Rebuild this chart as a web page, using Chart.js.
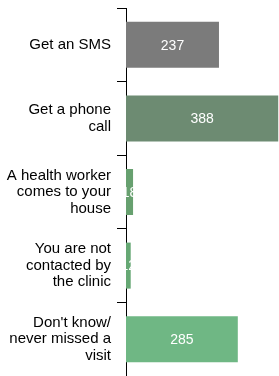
<!DOCTYPE html>
<html>
<head>
<meta charset="utf-8">
<script src="https://cdn.jsdelivr.net/npm/chart.js@4/dist/chart.umd.min.js"></script>
<style>
  html, body { margin: 0; padding: 0; background: #fff; }
</style>
</head>
<body>
<canvas id="myChart" width="279" height="376"></canvas>
<script>
// categories and counts
const categories = [
    "Get an SMS",
    ["Get a phone", "call"],
    ["A health worker", "comes to your", "house"],
    ["You are not", "contacted by", "the clinic"],
    ["Don't know/", "never missed a", "visit"]
];
const counts = [237, 388, 18, 12, 285];
const barColors = ["#7b7b7b", "#6d8b72", "#67a06f", "#66a874", "#6fb784"];

// white value labels in the middle of each bar
const valueLabels = {
    id: "valueLabels",
    afterDatasetsDraw(chart) {
        const ctx = chart.ctx;
        const meta = chart.getDatasetMeta(0);
        ctx.save();
        ctx.fillStyle = "#ffffff";
        ctx.font = "14px 'Liberation Sans', Arial, sans-serif";
        ctx.textAlign = "center";
        ctx.textBaseline = "middle";
        meta.data.forEach((bar, i) => {
            const x = (bar.base + bar.x) / 2;
            ctx.fillText(String(counts[i]), x, bar.y + 1);
        });
        ctx.restore();
    }
};

const myChartRef = document.getElementById("myChart").getContext("2d");
new Chart(myChartRef, {
    type: "bar",
    data: {
        labels: categories,
        datasets: [{
            data: counts,
            backgroundColor: barColors,
            categoryPercentage: 1,
            barPercentage: 0.625
        }]
    },
    options: {
        indexAxis: "y",
        responsive: false,
        animation: false,
        layout: { padding: { top: 8, right: 0, bottom: 0, left: 0 } },
        plugins: {
            legend: { display: false },
            tooltip: { enabled: false }
        },
        scales: {
            x: {
                display: false,
                min: 0,
                max: 390
            },
            y: {
                afterFit(scale) {
                    scale.width = 126;
                    scale.paddingTop = 0;
                    scale.paddingBottom = 0;
                },
                border: { display: true, color: "#000", width: 1 },
                grid: {
                    offset: true,
                    drawOnChartArea: false,
                    color: "#000",
                    tickLength: 9
                },
                ticks: {
                    color: "#000",
                    padding: 6,
                    font: { family: "'Liberation Sans', Arial, sans-serif", size: 15, lineHeight: 1.1 }
                }
            }
        }
    },
    plugins: [valueLabels]
});
</script>
</body>
</html>
